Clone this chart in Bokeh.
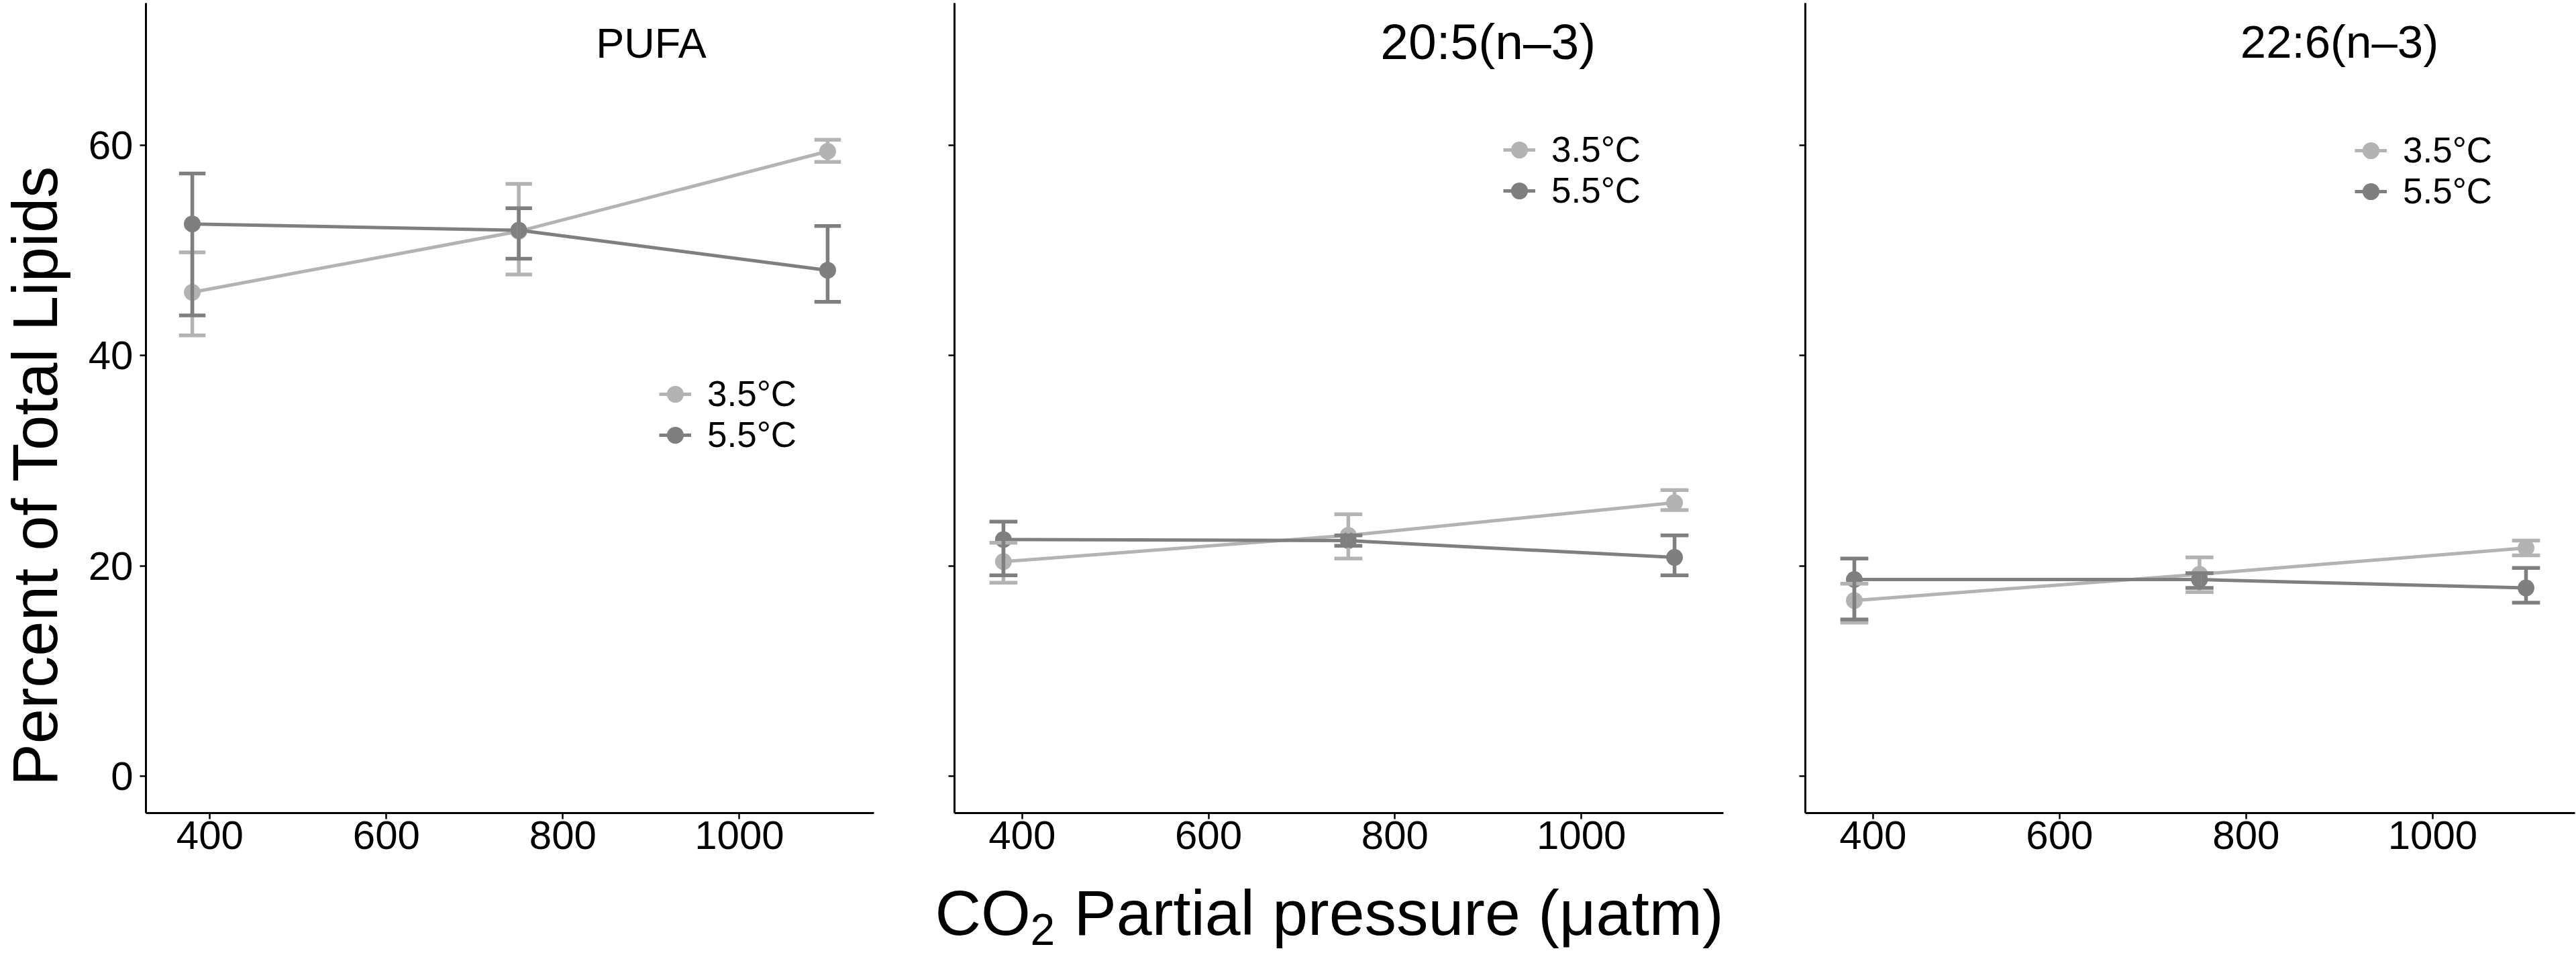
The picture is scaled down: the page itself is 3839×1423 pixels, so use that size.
import math
from bokeh.plotting import figure
from bokeh.models import Range1d, FixedTicker, Label, Legend, LegendItem
from bokeh.layouts import row, column
from bokeh.embed import file_html
from bokeh.resources import INLINE

# ---------------- data ----------------
co2 = [380, 750, 1100]
temps = ["3.5°C", "5.5°C"]
panel_titles = ["PUFA", "20:5(n–3)", "22:6(n–3)"]
x_ticks = [400, 600, 800, 1000]
y_ticks = [0, 20, 40, 60]

pufa_35 = [46.0, 51.8, 59.4]
pufa_35_lo = [41.9, 47.7, 58.4]
pufa_35_hi = [49.8, 56.3, 60.5]
pufa_55 = [52.5, 51.9, 48.1]
pufa_55_lo = [43.8, 49.2, 45.1]
pufa_55_hi = [57.3, 54.0, 52.3]

epa_35 = [20.4, 22.9, 26.0]
epa_35_lo = [18.4, 20.7, 25.3]
epa_35_hi = [22.2, 24.9, 27.2]
epa_55 = [22.5, 22.4, 20.8]
epa_55_lo = [19.1, 21.9, 19.1]
epa_55_hi = [24.2, 22.9, 22.9]

dha_35 = [16.7, 19.2, 21.7]
dha_35_lo = [14.6, 17.5, 21.0]
dha_35_hi = [18.3, 20.8, 22.4]
dha_55 = [18.7, 18.7, 17.9]
dha_55_lo = [14.9, 17.9, 16.5]
dha_55_hi = [20.7, 19.3, 19.8]

y_title = "Percent of Total Lipids"
x_title_parts = ["CO", "2", "Partial pressure (μatm)"]

# ---------------- style / layout ----------------
LIGHT = "#b3b3b3"
DARK = "#7f7f7f"
FONT = "Liberation Sans"
ERR_HALF = 15          # half width of error-bar caps (data units)
TOTAL_W = 3839
TOTAL_H = 1423
YT_W = 115             # strip holding the y title
XT_H = 123             # strip holding the x title
PH = TOTAL_H - XT_H    # height of the panel figures
TOP = 4
BOTTOM = PH - 1211


def make_fig(width, bl, br, show_ylabels):
    p = figure(width=width, height=PH, title=None,
               x_range=Range1d(327.5, 1152.5), y_range=Range1d(-3.5, 73.5),
               output_backend="svg", toolbar_location=None,
               min_border_left=bl, min_border_right=br,
               min_border_top=TOP, min_border_bottom=BOTTOM)
    p.grid.visible = False
    p.outline_line_color = None
    p.background_fill_color = "white"
    p.border_fill_color = "white"
    for ax in (p.xaxis[0], p.yaxis[0]):
        ax.axis_line_width = 3
        ax.axis_line_color = "black"
        ax.major_tick_line_width = 2.5
        ax.major_tick_line_color = "black"
        ax.major_tick_in = 0
        ax.major_tick_out = 9
        ax.minor_tick_line_color = None
        ax.axis_label_standoff = 0
        ax.major_label_text_font = FONT
        ax.major_label_text_font_size = "60px"
        ax.major_label_text_color = "black"
    p.xaxis.ticker = FixedTicker(ticks=x_ticks)
    p.yaxis.ticker = FixedTicker(ticks=y_ticks)
    p.xaxis.major_label_standoff = 3
    p.yaxis.major_label_standoff = 10
    if not show_ylabels:
        p.yaxis.major_label_overrides = {t: "" for t in y_ticks}
    return p


def blank_fig(width, height, xr, yr):
    p = figure(width=width, height=height, title=None, x_range=xr, y_range=yr,
               x_axis_type=None, y_axis_type=None,
               output_backend="svg", toolbar_location=None,
               min_border_left=0, min_border_right=0, min_border_top=0, min_border_bottom=0)
    p.grid.visible = False
    p.outline_line_color = None
    p.background_fill_color = "white"
    p.border_fill_color = "white"
    return p


def txt(p, x, y, text, size, align="left", angle=0.0):
    p.add_layout(Label(x=x, y=y, text=text, angle=angle, text_align=align,
                       text_baseline="middle", text_font=FONT,
                       text_font_size=size, text_color="black"))


def draw(p, series, title, title_size, title_y, legend_xy):
    colors = (LIGHT, DARK)
    lines, points = [], []
    for (y, lo, hi), c in zip(series, colors):
        lines.append(p.line(co2, y, line_color=c, line_width=5))
    for (y, lo, hi), c in zip(series, colors):
        points.append(p.scatter(co2, y, size=19, fill_color=c, line_color=c, line_width=6))
    for (y, lo, hi), c in zip(series, colors):
        cx0 = [x - ERR_HALF for x in co2]
        cx1 = [x + ERR_HALF for x in co2]
        p.segment(x0=co2, y0=lo, x1=co2, y1=hi, line_color=c, line_width=5.5)
        p.segment(x0=cx0, y0=lo, x1=cx1, y1=lo, line_color=c, line_width=5.5)
        p.segment(x0=cx0, y0=hi, x1=cx1, y1=hi, line_color=c, line_width=5.5)
    items = [LegendItem(label=lab, renderers=[lr, pr])
             for lab, lr, pr in zip(temps, lines, points)]
    leg = Legend(items=items, location=legend_xy, padding=0, margin=0, spacing=0,
                 border_line_color=None, background_fill_alpha=0,
                 glyph_width=48, glyph_height=60, label_height=60, label_standoff=24,
                 label_text_font=FONT, label_text_font_size="53px", label_text_color="black")
    p.add_layout(leg)
    txt(p, 900, title_y, title, title_size, align="center")


# y-title strip (coordinates: page px from left / page px from bottom)
fy = blank_fig(YT_W, TOTAL_H, Range1d(0, YT_W), Range1d(0, TOTAL_H))
txt(fy, 52, TOTAL_H - 708, y_title, "94px", align="center", angle=math.pi / 2)

# panels (frames at page x 217..1302, 1422..2568, 2690..3837; y 4..1211)
f1 = make_fig(1340 - YT_W, 217 - YT_W, 38, True)
draw(f1, [(pufa_35, pufa_35_lo, pufa_35_hi), (pufa_55, pufa_55_lo, pufa_55_hi)],
     panel_titles[0], "63px", 69.7, (765, 533))

f2 = make_fig(1280, 82, 52, False)
draw(f2, [(epa_35, epa_35_lo, epa_35_hi), (epa_55, epa_55_lo, epa_55_hi)],
     panel_titles[1], "75px", 69.8, (818, 897))

f3 = make_fig(1219, 70, 2, False)
draw(f3, [(dha_35, dha_35_lo, dha_35_hi), (dha_55, dha_55_lo, dha_55_hi)],
     panel_titles[2], "69px", 69.8, (819, 896))

# x-title strip (coordinates: page px from left / px from bottom of the page)
fx = blank_fig(TOTAL_W - YT_W, XT_H, Range1d(YT_W, TOTAL_W), Range1d(0, XT_H))
txt(fx, 1393, 64, x_title_parts[0], "95px")
txt(fx, 1535, 39, x_title_parts[1], "66px")
txt(fx, 1600, 64, x_title_parts[2], "95px")

layout = row(fy, column(row(f1, f2, f3), fx))
open("out.html", "w").write(file_html(layout, INLINE))
